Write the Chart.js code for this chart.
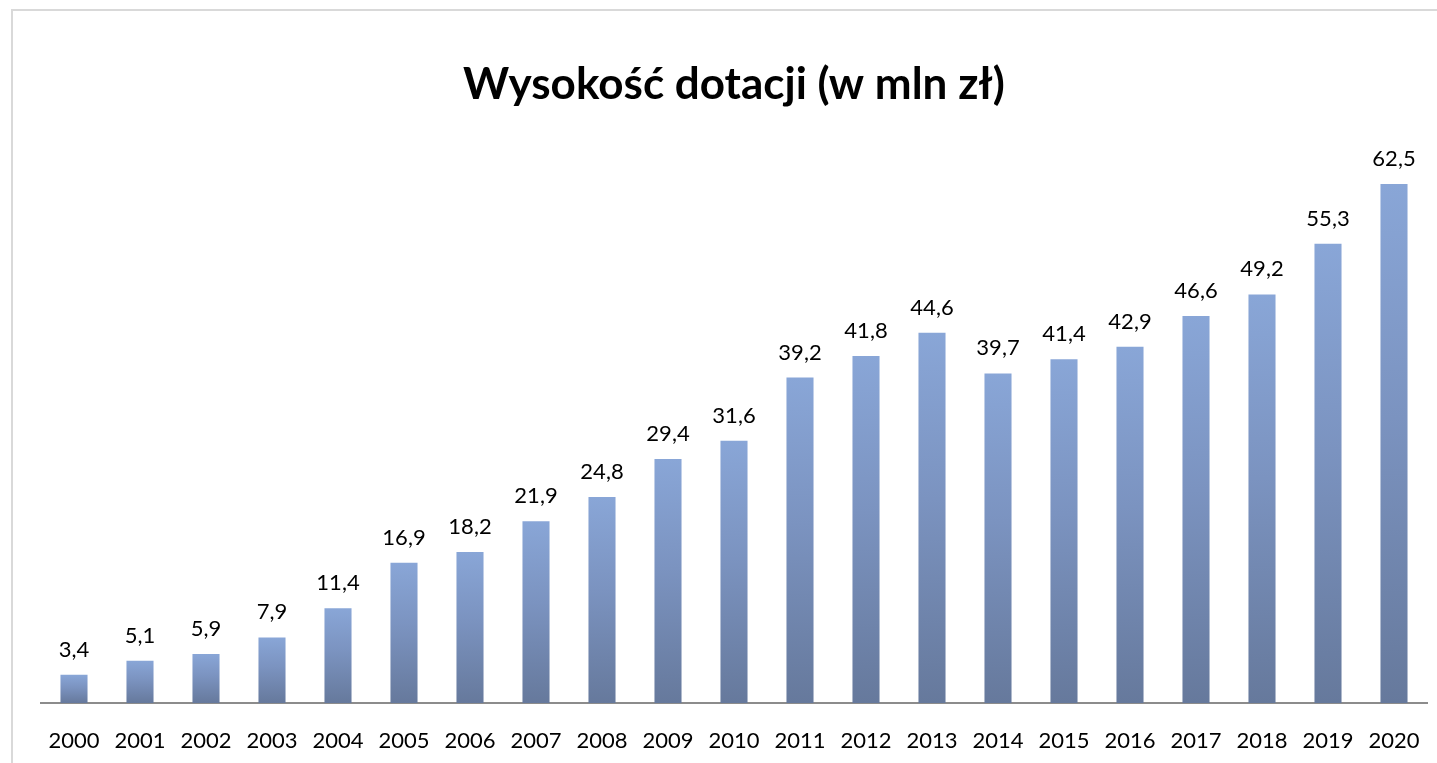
<!DOCTYPE html>
<html>
<head>
<meta charset="utf-8">
<script src="https://cdn.jsdelivr.net/npm/chart.js@4"></script>
<style>
  html, body { margin: 0; padding: 0; background: #fff; overflow: hidden; }
  #frame {
    position: absolute; left: 11px; top: 9px; width: 1424px; height: 752px;
    border-top: 2px solid #d9d9d9; border-left: 2px solid #d9d9d9;
  }
  #wrap { position: absolute; left: 0; top: 0; width: 1437px; height: 763px; }
</style>
</head>
<body>
<div id="frame"></div>
<div id="wrap"><canvas id="dotacjeChart"></canvas></div>
<script>
const years = ["2000", "2001", "2002", "2003", "2004", "2005", "2006", "2007", "2008", "2009", "2010",
    "2011", "2012", "2013", "2014", "2015", "2016", "2017", "2018", "2019", "2020"];
const amounts = [3.4, 5.1, 5.9, 7.9, 11.4, 16.9, 18.2, 21.9, 24.8, 29.4, 31.6,
    39.2, 41.8, 44.6, 39.7, 41.4, 42.9, 46.6, 49.2, 55.3, 62.5];
const chartTitle = "Wysokość dotacji (w mln zł)";

// gradient per bar, light on top, darker at the base
function barGradient(ctx) {
    const chart = ctx.chart;
    const yScale = chart.scales.y;
    if (!chart.chartArea || !yScale || ctx.raw === undefined) return "#7b93c0";
    const top = yScale.getPixelForValue(ctx.raw);
    const base = yScale.getPixelForValue(0);
    if (!isFinite(top) || !isFinite(base) || top === base) return "#7b93c0";
    const g = chart.ctx.createLinearGradient(0, top, 0, base);
    g.addColorStop(0, "#89a6d7");
    g.addColorStop(0.45, "#7b93c0");
    g.addColorStop(1, "#66799c");
    return g;
}

// values written above bars, with a comma as decimal mark
const valueLabels = {
    id: "valueLabels",
    afterDatasetsDraw(chart) {
        const ctx = chart.ctx;
        const meta = chart.getDatasetMeta(0);
        ctx.save();
        ctx.font = "22px Lato";
        ctx.fillStyle = "#000";
        ctx.textAlign = "center";
        ctx.textBaseline = "alphabetic";
        meta.data.forEach((bar, i) => {
            const txt = amounts[i].toFixed(1).replace(".", ",");
            ctx.fillText(txt, bar.x, bar.y - 18);
        });
        ctx.restore();
    }
};

const dotacjeChart = new Chart(document.getElementById("dotacjeChart"), {
    type: "bar",
    data: {
        labels: years,
        datasets: [{
            data: amounts,
            backgroundColor: barGradient,
            barPercentage: 0.41,
            categoryPercentage: 1.0
        }]
    },
    options: {
        responsive: true,
        maintainAspectRatio: false,
        animation: false,
        layout: { padding: { left: 41, right: 10, top: 0, bottom: 10 } },
        plugins: {
            legend: { display: false },
            tooltip: { enabled: false },
            title: {
                display: true,
                text: chartTitle,
                color: "#000",
                font: { family: "Lato", size: 44, weight: "bold", lineHeight: 1.2 },
                padding: { top: 58, bottom: 11 }
            }
        },
        scales: {
            x: {
                grid: { display: false, drawTicks: false },
                border: { display: true, color: "#8c8c8c", width: 2 },
                ticks: { color: "#000", font: { family: "Lato", size: 22 }, padding: 25, maxRotation: 0 },
                afterFit(scale) {
                    scale.height = 50;
                    scale.paddingLeft = 0;
                    scale.paddingRight = 0;
                }
            },
            y: {
                display: false,
                min: 0,
                max: 70
            }
        }
    },
    plugins: [valueLabels]
});
dotacjeChart.update();
</script>
</body>
</html>
